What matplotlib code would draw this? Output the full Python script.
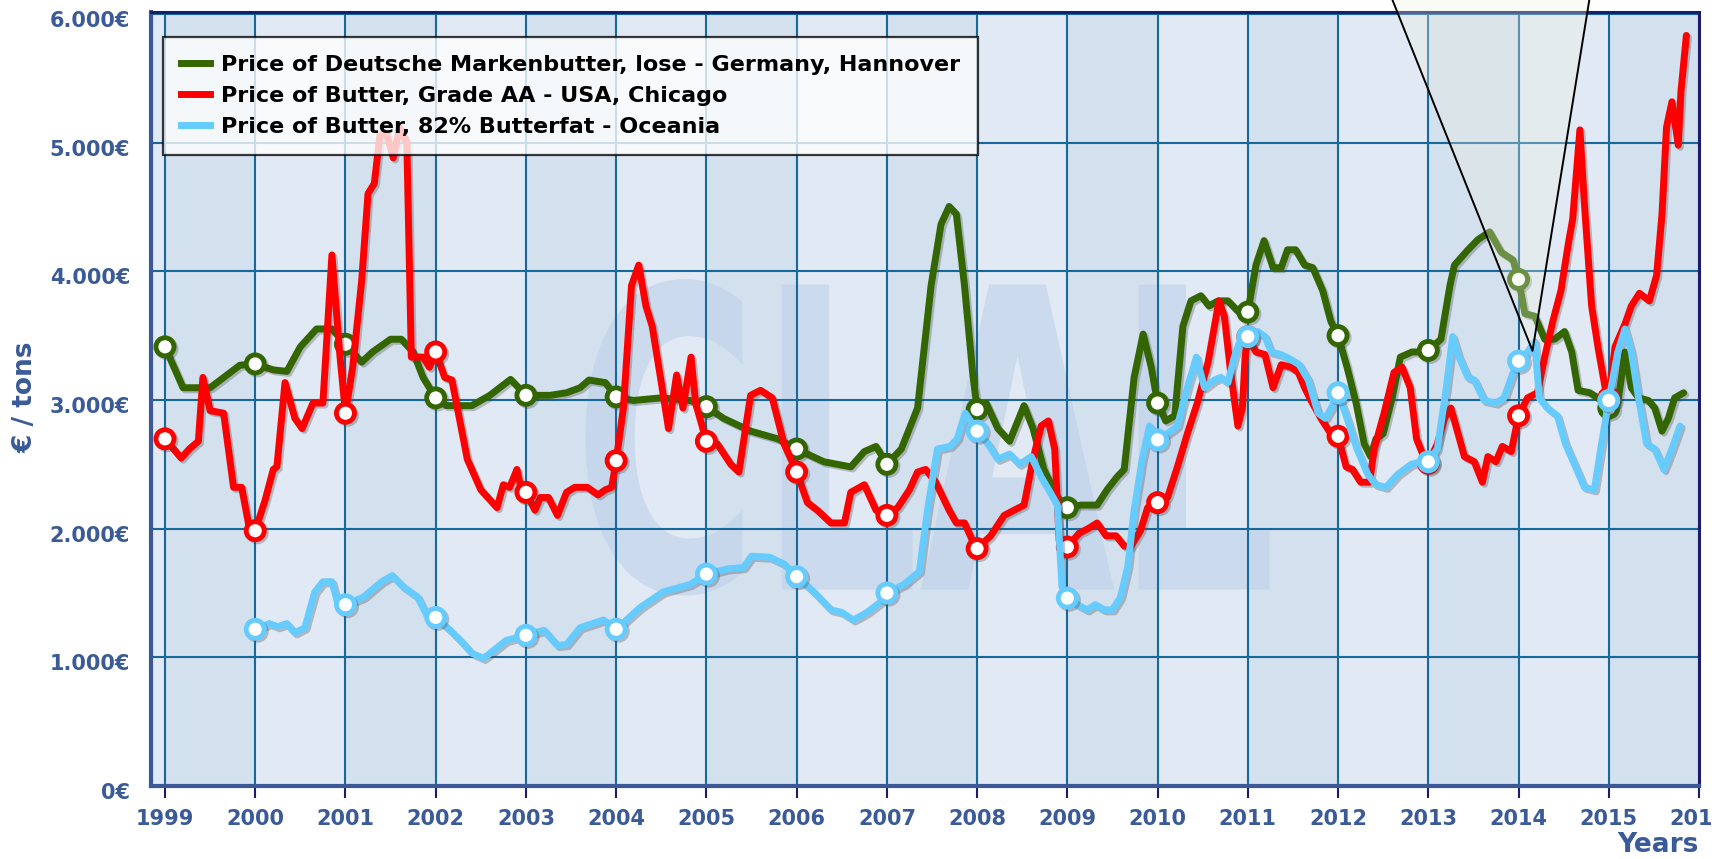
import matplotlib
matplotlib.use('Agg')
import matplotlib.pyplot as plt
import matplotlib.patheffects as pe
from matplotlib.lines import Line2D
from matplotlib.patches import PathPatch, Polygon
from matplotlib.textpath import TextPath
from matplotlib.font_manager import FontProperties
from matplotlib.transforms import Affine2D, ScaledTranslation

# ---- data (EUR / ton) ----
de_x = [1999.00, 1999.20, 1999.50, 1999.65, 1999.83, 2000.00, 2000.20, 2000.35, 2000.50, 2000.68,
        2000.85, 2001.00, 2001.18, 2001.30, 2001.50, 2001.62, 2001.75, 2001.86, 2002.00, 2002.12,
        2002.40, 2002.60, 2002.83, 2003.00, 2003.27, 2003.45, 2003.60, 2003.70, 2003.88, 2004.00,
        2004.19, 2004.49, 2004.82, 2005.00, 2005.19, 2005.49, 2005.79, 2006.00, 2006.30, 2006.60,
        2006.75, 2006.88, 2006.95, 2007.00, 2007.16, 2007.34, 2007.49, 2007.60, 2007.69, 2007.77,
        2007.86, 2007.95, 2008.00, 2008.10, 2008.23, 2008.36, 2008.52, 2008.62, 2008.74, 2008.89,
        2009.00, 2009.15, 2009.33, 2009.44, 2009.55, 2009.63, 2009.74, 2009.84, 2009.93, 2010.00,
        2010.09, 2010.19, 2010.28, 2010.37, 2010.48, 2010.57, 2010.67, 2010.78, 2010.89, 2011.00,
        2011.09, 2011.18, 2011.28, 2011.37, 2011.44, 2011.53, 2011.63, 2011.72, 2011.83, 2011.92,
        2012.00, 2012.10, 2012.20, 2012.29, 2012.36, 2012.42, 2012.50, 2012.60, 2012.69, 2012.82,
        2012.92, 2013.00, 2013.14, 2013.24, 2013.29, 2013.44, 2013.55, 2013.68, 2013.81, 2013.94,
        2014.00, 2014.07, 2014.18, 2014.29, 2014.40, 2014.51, 2014.59, 2014.66, 2014.79, 2014.88,
        2015.00, 2015.10, 2015.18, 2015.25, 2015.33, 2015.44, 2015.51, 2015.59, 2015.66, 2015.73,
        2015.83]
de_y = [3413, 3095, 3095, 3175, 3270, 3280, 3234, 3222, 3413, 3552,
        3552, 3433, 3294, 3373, 3472, 3472, 3373, 3175, 3016, 2956,
        2956, 3036, 3160, 3036, 3036, 3056, 3095, 3155, 3135, 3024,
        2996, 3016, 2996, 2948, 2857, 2758, 2698, 2619, 2520, 2480,
        2599, 2639, 2560, 2500, 2619, 2937, 3889, 4365, 4504, 4444,
        3889, 3214, 2925, 2976, 2778, 2679, 2956, 2778, 2460, 2242,
        2163, 2183, 2183, 2302, 2401, 2460, 3175, 3512, 3254, 2976,
        2837, 2877, 3571, 3770, 3810, 3730, 3770, 3770, 3690, 3683,
        4048, 4238, 4028, 4028, 4167, 4167, 4048, 4028, 3849, 3611,
        3500, 3254, 2976, 2659, 2560, 2698, 2738, 3016, 3333, 3373,
        3373, 3385, 3472, 3889, 4048, 4167, 4246, 4306, 4147, 4087,
        3937, 3671, 3651, 3472, 3472, 3532, 3373, 3075, 3056, 3016,
        2937, 2976, 3373, 3095, 3016, 2996, 2937, 2758, 2857, 3016,
        3056]

us_x = [1999.00, 1999.18, 1999.27, 1999.37, 1999.42, 1999.50, 1999.65, 1999.76, 1999.85, 1999.94,
        2000.00, 2000.11, 2000.20, 2000.24, 2000.33, 2000.44, 2000.52, 2000.64, 2000.75, 2000.85,
        2000.94, 2001.00, 2001.08, 2001.18, 2001.25, 2001.32, 2001.38, 2001.45, 2001.53, 2001.60,
        2001.68, 2001.73, 2001.86, 2001.93, 2002.00, 2002.10, 2002.18, 2002.35, 2002.50, 2002.68,
        2002.75, 2002.82, 2002.90, 2002.95, 2003.00, 2003.10, 2003.16, 2003.25, 2003.35, 2003.45,
        2003.54, 2003.68, 2003.80, 2003.88, 2003.95, 2004.00, 2004.08, 2004.17, 2004.25, 2004.33,
        2004.40, 2004.50, 2004.58, 2004.67, 2004.74, 2004.83, 2004.88, 2005.00, 2005.12, 2005.27,
        2005.36, 2005.49, 2005.60, 2005.73, 2005.86, 2006.00, 2006.12, 2006.23, 2006.38, 2006.53,
        2006.60, 2006.75, 2006.88, 2007.00, 2007.12, 2007.25, 2007.34, 2007.43, 2007.54, 2007.69,
        2007.77, 2007.86, 2007.95, 2008.00, 2008.15, 2008.30, 2008.41, 2008.52, 2008.62, 2008.71,
        2008.79, 2008.86, 2008.91, 2009.00, 2009.13, 2009.24, 2009.33, 2009.43, 2009.54, 2009.63,
        2009.70, 2009.81, 2009.89, 2010.00, 2010.11, 2010.22, 2010.33, 2010.44, 2010.56, 2010.63,
        2010.68, 2010.74, 2010.81, 2010.89, 2010.94, 2010.97, 2011.00, 2011.09, 2011.19, 2011.28,
        2011.37, 2011.48, 2011.56, 2011.63, 2011.70, 2011.81, 2011.92, 2012.00, 2012.09, 2012.16,
        2012.25, 2012.35, 2012.40, 2012.51, 2012.62, 2012.71, 2012.80, 2012.87, 2012.96, 2013.00,
        2013.10, 2013.18, 2013.25, 2013.33, 2013.40, 2013.51, 2013.60, 2013.66, 2013.75, 2013.82,
        2013.92, 2014.00, 2014.10, 2014.21, 2014.29, 2014.38, 2014.47, 2014.55, 2014.60, 2014.68,
        2014.73, 2014.81, 2014.88, 2014.96, 2015.00, 2015.07, 2015.18, 2015.25, 2015.34, 2015.45,
        2015.53, 2015.59, 2015.64, 2015.70, 2015.77, 2015.80, 2015.86]
us_y = [2698, 2548, 2619, 2679, 3175, 2917, 2897, 2321, 2321, 1984,
        1984, 2222, 2460, 2480, 3135, 2857, 2778, 2976, 2976, 4127,
        3333, 2897, 3254, 3929, 4603, 4683, 5050, 5080, 4881, 5119,
        5000, 3333, 3333, 3254, 3373, 3175, 3155, 2540, 2302, 2163,
        2341, 2321, 2460, 2302, 2282, 2143, 2242, 2242, 2103, 2282,
        2321, 2321, 2262, 2302, 2321, 2528, 2937, 3889, 4048, 3730,
        3571, 3135, 2778, 3194, 2937, 3333, 2976, 2679, 2659, 2500,
        2440, 3036, 3075, 3016, 2659, 2440, 2202, 2143, 2044, 2044,
        2282, 2341, 2143, 2103, 2163, 2302, 2440, 2460, 2361, 2143,
        2044, 2044, 1905, 1845, 1944, 2103, 2143, 2183, 2540, 2798,
        2837, 2619, 1905, 1857, 1964, 2004, 2044, 1944, 1944, 1865,
        1857, 1984, 2163, 2202, 2242, 2480, 2738, 2976, 3294, 3571,
        3770, 3651, 3214, 2798, 2937, 3333, 3492, 3373, 3353, 3095,
        3274, 3254, 3214, 3095, 2996, 2857, 2738, 2718, 2480, 2460,
        2361, 2361, 2619, 2897, 3214, 3254, 3095, 2698, 2540, 2508,
        2659, 2857, 2937, 2738, 2560, 2520, 2361, 2560, 2520, 2639,
        2599, 2877, 3016, 3056, 3333, 3611, 3849, 4206, 4405, 5099,
        4524, 3730, 3413, 3095, 3016, 3413, 3591, 3730, 3829, 3770,
        3968, 4444, 5119, 5317, 4980, 5397, 5833]

oc_x = [2000.00, 2000.16, 2000.25, 2000.35, 2000.44, 2000.55, 2000.66, 2000.75, 2000.85, 2000.92,
        2001.00, 2001.20, 2001.30, 2001.40, 2001.52, 2001.64, 2001.80, 2001.90, 2002.00, 2002.16,
        2002.30, 2002.40, 2002.53, 2002.64, 2002.78, 2003.00, 2003.20, 2003.35, 2003.45, 2003.60,
        2003.86, 2004.00, 2004.27, 2004.52, 2004.82, 2005.00, 2005.23, 2005.41, 2005.50, 2005.70,
        2005.86, 2006.00, 2006.19, 2006.38, 2006.50, 2006.63, 2006.78, 2006.93, 2007.00, 2007.19,
        2007.36, 2007.45, 2007.56, 2007.70, 2007.78, 2007.87, 2008.00, 2008.12, 2008.23, 2008.36,
        2008.47, 2008.60, 2008.71, 2008.81, 2008.89, 2008.94, 2009.00, 2009.11, 2009.22, 2009.31,
        2009.41, 2009.50, 2009.59, 2009.67, 2009.74, 2009.83, 2009.91, 2010.00, 2010.11, 2010.22,
        2010.33, 2010.43, 2010.52, 2010.63, 2010.70, 2010.78, 2010.85, 2010.93, 2011.00, 2011.11,
        2011.19, 2011.26, 2011.37, 2011.48, 2011.57, 2011.67, 2011.78, 2011.86, 2011.94, 2012.00,
        2012.10, 2012.21, 2012.33, 2012.42, 2012.53, 2012.66, 2012.81, 2012.92, 2013.00, 2013.10,
        2013.20, 2013.27, 2013.34, 2013.44, 2013.51, 2013.62, 2013.75, 2013.84, 2013.94, 2014.00,
        2014.10, 2014.18, 2014.23, 2014.32, 2014.43, 2014.52, 2014.62, 2014.73, 2014.84, 2014.92,
        2015.00, 2015.10, 2015.18, 2015.25, 2015.33, 2015.42, 2015.51, 2015.61, 2015.70, 2015.79]
oc_y = [1218, 1262, 1238, 1262, 1190, 1230, 1508, 1587, 1587, 1409,
        1409, 1468, 1528, 1587, 1635, 1548, 1468, 1329, 1310, 1210,
        1111, 1032, 992, 1052, 1131, 1171, 1210, 1091, 1100, 1230,
        1290, 1218, 1389, 1508, 1567, 1647, 1687, 1698, 1786, 1778,
        1726, 1627, 1508, 1369, 1349, 1290, 1349, 1429, 1500, 1567,
        1667, 2143, 2619, 2639, 2698, 2897, 2758, 2659, 2540, 2579,
        2500, 2560, 2401, 2282, 2183, 1548, 1460, 1409, 1369, 1409,
        1369, 1369, 1468, 1706, 2143, 2540, 2798, 2690, 2738, 2798,
        3095, 3333, 3095, 3155, 3175, 3135, 3333, 3492, 3492, 3532,
        3492, 3373, 3353, 3313, 3274, 3155, 2897, 2857, 2956, 3056,
        2857, 2619, 2421, 2341, 2321, 2421, 2500, 2520, 2520, 2619,
        3095, 3492, 3333, 3175, 3155, 2996, 2976, 3016, 3214, 3302,
        3373, 3452, 3016, 2937, 2877, 2659, 2500, 2321, 2302, 2659,
        2996, 3373, 3552, 3373, 3016, 2659, 2619, 2460, 2619, 2798]

series_labels = ["Price of Deutsche Markenbutter, lose - Germany, Hannover",
                 "Price of Butter, Grade AA - USA, Chicago",
                 "Price of Butter, 82% Butterfat - Oceania"]
series_colors = ['#336600', '#ff0000', '#66ccff']

year_ticks = list(range(1999, 2017))
year_labels = [str(y) for y in year_ticks[:-1]] + ['201']   # last one is cut off in the source
price_ticks = [0, 1000, 2000, 3000, 4000, 5000, 6000]
price_labels = ['0€', '1.000€', '2.000€', '3.000€', '4.000€', '5.000€', '6.000€']

label_blue = '#3a5a98'
navy = '#1c1c6e'
band_dark = '#d3e0ee'
band_light = '#e1e9f4'

fig = plt.figure(figsize=(17.15, 8.59), dpi=100)
ax = fig.add_axes([151 / 1715, 73 / 859, 1548 / 1715, 774 / 859])
ax.set_xlim(1998.845, 2016.0)
ax.set_ylim(0, 6015)
ax.set_facecolor(band_light)

# alternating year bands
for y in year_ticks[:-1]:
    if (y - 1999) % 2 == 0:
        ax.axvspan(y, y + 1, color=band_dark, lw=0, zorder=0.1)

# CLAL watermark, squeezed into its box
tp = TextPath((0, 0), "CLAL", size=1, prop=FontProperties(family='DejaVu Sans', weight='bold'))
ext = tp.get_extents()
wx0, wx1, wy0, wy1 = 2003.66, 2011.24, 1480, 3940
wm = Affine2D().translate(-ext.x0, -ext.y0).scale((wx1 - wx0) / ext.width, (wy1 - wy0) / ext.height).translate(wx0, wy0)
ax.add_patch(PathPatch(wm.transform_path(tp), fc='#c3d4ea', ec='none', alpha=0.7, zorder=0.2))

ax.set_axisbelow('line')
ax.grid(True, color='#17699c', lw=1.5)

shadow = [pe.SimpleLineShadow(offset=(1.5, -1.5), shadow_color='#444444', alpha=0.3), pe.Normal()]

for xs, ys, col, z in [(de_x, de_y, series_colors[0], 2.1),
                       (us_x, us_y, series_colors[1], 2.2),
                       (oc_x, oc_y, series_colors[2], 2.3)]:
    marks = [i for i, v in enumerate(xs) if float(v).is_integer()]
    ax.plot(xs, ys, color=col, lw=5, solid_joinstyle='round', solid_capstyle='round',
            marker='o', markevery=marks, markersize=13, markerfacecolor='white',
            markeredgecolor=col, markeredgewidth=3.5, zorder=z, path_effects=shadow)

# zoom pointer triangle
tri_x = [2012.515, 2014.155, 2014.82]
tri_y = [6263, 3382, 6263]
ax.add_patch(Polygon(list(zip(tri_x, tri_y)), closed=True, fc='#eef2e0', ec='none',
                     alpha=0.3, clip_on=False, zorder=3))
ax.plot(tri_x, tri_y, color='black', lw=1.4, clip_on=False, zorder=4)

# axes styling
ax.set_xticks(year_ticks)
ax.set_xticklabels(year_labels, fontsize=15, fontweight='bold', color=label_blue)
ax.set_yticks(price_ticks)
ax.set_yticklabels(price_labels, fontsize=15, fontweight='bold', color=label_blue)
ax.tick_params(axis='x', direction='out', length=8.5, width=1.5, color=navy, pad=8)
ax.tick_params(axis='y', length=0, pad=15)
for side in ['left', 'bottom']:
    ax.spines[side].set_color('#3b5998')
    ax.spines[side].set_linewidth(3)
for side in ['top', 'right']:
    ax.spines[side].set_color(navy)
    ax.spines[side].set_linewidth(2.2)

# y labels sit a little below their gridlines in the source
for lbl in ax.get_yticklabels():
    lbl.set_transform(lbl.get_transform() + ScaledTranslation(0, -0.05, fig.dpi_scale_trans))
last = ax.get_xticklabels()[-1]
last.set_horizontalalignment('right')
last.set_transform(last.get_transform() + ScaledTranslation(0.14, 0, fig.dpi_scale_trans))

handles = [Line2D([], [], color=c, lw=5) for c in series_colors]
leg = ax.legend(handles, series_labels, loc='upper left', bbox_to_anchor=(0.0078, 0.968),
                borderaxespad=0, prop={'weight': 'bold', 'size': 16},
                handlelength=1.3, handletextpad=0.5, labelspacing=0.5, borderpad=0.8,
                fancybox=False, framealpha=0.78, edgecolor='black', facecolor='white')
leg.get_frame().set_linewidth(1.6)
leg.set_zorder(10)

fig.text(26 / 1715, 1 - 397 / 859, '€ / tons', rotation=90, ha='center', va='center',
         fontsize=19, fontweight='bold', color=label_blue)
fig.text(1699 / 1715, 7 / 859, 'Years', ha='right', va='baseline',
         fontsize=19, fontweight='bold', color=label_blue)

fig.savefig('out.png', dpi=100)
